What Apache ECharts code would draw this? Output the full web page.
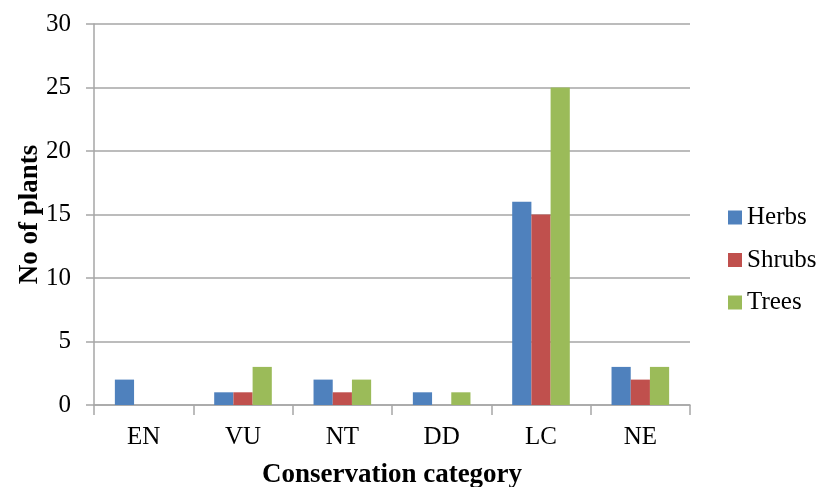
<!DOCTYPE html>
<html><head><meta charset="utf-8">
<script src="https://cdn.jsdelivr.net/npm/echarts@6/dist/echarts.min.js"></script>
<style>html,body{margin:0;padding:0;background:#fff}#c{width:820px;height:487px}</style>
</head><body><div id="c"></div>
<script>
const categories = ['EN','VU','NT','DD','LC','NE'];
const herbs = [2,1,2,1,16,3];
const shrubs = [0,1,1,0,15,2];
const trees = [0,3,2,1,25,3];
const yTicks = [0,5,10,15,20,25,30];

const font = 'Liberation Serif';
const chart = echarts.init(document.getElementById('c'));
chart.setOption({
  animation: false,
  textStyle: {fontFamily: font},
  grid: {left: 94, right: 130, top: 24, bottom: 82, containLabel: false, outerBoundsMode: 'none'},
  legend: {
    orient: 'vertical', left: 723, top: 200, itemGap: 17.5,
    itemWidth: 14, itemHeight: 14, icon: 'rect',
    textStyle: {fontFamily: font, fontSize: 25, color: '#000'},
    data: ['Herbs','Shrubs','Trees']
  },
  xAxis: {
    type: 'category', data: categories,
    name: 'Conservation category', nameLocation: 'middle', nameGap: 57,
    nameTextStyle: {fontFamily: font, fontSize: 27, fontWeight: 'bold', color: '#000'},
    axisLine: {lineStyle: {color: '#a6a6a6', width: 1.5}},
    axisTick: {show: true, length: 10, lineStyle: {color: '#a6a6a6', width: 1.5}},
    axisLabel: {fontFamily: font, fontSize: 25, color: '#000', margin: 20}
  },
  yAxis: {
    type: 'value', min: 0, max: 30, interval: 5,
    name: 'No of plants', nameLocation: 'middle', nameGap: 50, nameMoveOverlap: false,
    nameTextStyle: {fontFamily: font, fontSize: 27, fontWeight: 'bold', color: '#000'},
    axisLine: {show: true, lineStyle: {color: '#a6a6a6', width: 1.5}},
    axisTick: {show: true, length: 8, lineStyle: {color: '#a6a6a6', width: 1.5}},
    axisLabel: {fontFamily: font, fontSize: 25, color: '#000', margin: 23},
    splitLine: {lineStyle: {color: '#a6a6a6', width: 1.5}}
  },
  series: [
    {name: 'Herbs', type: 'bar', data: herbs, barGap: '0%', barCategoryGap: '42%', itemStyle: {color: '#4f81bd'}},
    {name: 'Shrubs', type: 'bar', data: shrubs, itemStyle: {color: '#c0504d'}},
    {name: 'Trees', type: 'bar', data: trees, itemStyle: {color: '#9bbb59'}}
  ]
});
</script></body></html>
